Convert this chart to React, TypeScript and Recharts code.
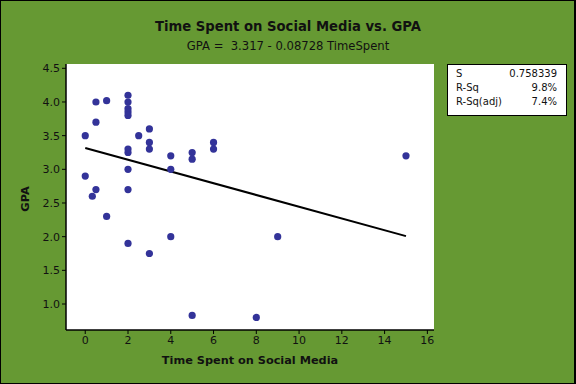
import React from 'react';
import { ScatterChart, Scatter, XAxis, YAxis, CartesianGrid } from 'recharts';

// Observed data: time spent on social media (hours) vs GPA
const timeSpent = [0, 0, 0.33, 0.5, 0.5, 0.5, 1, 1, 2, 2, 2, 2, 2, 2, 2, 2, 2, 2, 2.5, 3, 3, 3, 3, 4, 4, 4, 5, 5, 5, 6, 6, 8, 9, 15];
const gpa = [3.5, 2.9, 2.6, 4.0, 3.7, 2.7, 4.02, 2.3, 4.1, 4.0, 3.9, 3.85, 3.8, 3.3, 3.25, 3.0, 2.7, 1.9, 3.5, 3.6, 3.4, 3.3, 1.75, 3.2, 3.0, 2.0, 3.25, 3.15, 0.83, 3.4, 3.3, 0.8, 2.0, 3.2];

// Fitted regression: GPA = 3.317 - 0.08728 TimeSpent
const fitIntercept = 3.317;
const fitSlope = -0.08728;
const fitRangeX = [0, 15];

const xTicks = [0, 2, 4, 6, 8, 10, 12, 14, 16];
const yTicks = [1.0, 1.5, 2.0, 2.5, 3.0, 3.5, 4.0, 4.5];

const statLabels = ['S', 'R-Sq', 'R-Sq(adj)'];
const statValues = ['0.758339', '9.8%', '7.4%'];

const points = timeSpent.map((x, i) => ({ x, y: gpa[i] }));
const fitLine = fitRangeX.map((x) => ({ x, y: fitIntercept + fitSlope * x }));

const GREEN = '#669933';
const DOT = '#333399';
const FONT = '"DejaVu Sans", sans-serif';

export default function App() {
  return (
    <div
      style={{
        position: 'absolute',
        left: 0,
        top: 0,
        width: 576,
        height: 384,
        background: GREEN,
        boxSizing: 'border-box',
        border: '1px solid #000',
        borderRightWidth: 2,
        fontFamily: FONT,
        overflow: 'hidden',
      }}
    >
      <div style={{ position: 'absolute', left: -1, top: -1 }}>
        <ScatterChart width={576} height={384} margin={{ top: 64, right: 142, bottom: 0, left: 0 }}>
          <CartesianGrid fill="#ffffff" stroke="none" horizontal={false} vertical={false} />
          <XAxis
            xAxisId="b"
            type="number"
            dataKey="x"
            domain={[-0.9, 16.31]}
            ticks={xTicks}
            height={54}
            tickSize={4}
            axisLine={{ stroke: '#000', strokeWidth: 1.5 }}
            tickLine={{ stroke: '#000' }}
            tick={{ fill: '#111', fontSize: 11, fontFamily: FONT }}
            allowDataOverflow
          />
          <XAxis
            xAxisId="t"
            orientation="top"
            type="number"
            dataKey="x"
            domain={[-0.9, 16.31]}
            height={0}
            tick={false}
            tickLine={false}
            axisLine={{ stroke: '#000', strokeWidth: 1.5 }}
            allowDataOverflow
          />
          <YAxis
            yAxisId="l"
            type="number"
            dataKey="y"
            domain={[0.614, 4.564]}
            ticks={yTicks}
            width={66}
            tickSize={4}
            axisLine={{ stroke: '#000', strokeWidth: 1.5 }}
            tickLine={{ stroke: '#000' }}
            tick={{ fill: '#111', fontSize: 11, fontFamily: FONT }}
            tickFormatter={(v: number) => v.toFixed(1)}
            allowDataOverflow
          />
          <YAxis
            yAxisId="r"
            orientation="right"
            type="number"
            dataKey="y"
            domain={[0.614, 4.564]}
            width={0}
            tick={false}
            tickLine={false}
            axisLine={{ stroke: '#000', strokeWidth: 1.5 }}
            allowDataOverflow
          />
          <Scatter
            xAxisId="b"
            yAxisId="l"
            data={fitLine}
            line={{ stroke: '#000', strokeWidth: 2 }}
            shape={() => null}
            isAnimationActive={false}
          />
          <Scatter
            xAxisId="b"
            yAxisId="l"
            data={points}
            fill={DOT}
            shape={(p: any) => <circle cx={p.cx} cy={p.cy} r={3.6} fill={DOT} />}
            isAnimationActive={false}
          />
        </ScatterChart>
      </div>
      <div
        style={{
          position: 'absolute',
          left: 0,
          width: 574,
          top: 17,
          textAlign: 'center',
          fontWeight: 'bold',
          fontSize: 13.2,
          color: '#111',
          whiteSpace: 'pre',
          lineHeight: '18px',
        }}
      >
        Time Spent on Social Media vs. GPA
      </div>
      <div
        style={{
          position: 'absolute',
          left: 0,
          width: 574,
          top: 37,
          textAlign: 'center',
          fontSize: 11.6,
          color: '#111',
          whiteSpace: 'pre',
          lineHeight: '16px',
        }}
      >
        {'GPA =  3.317 - 0.08728 TimeSpent'}
      </div>
      <div
        style={{
          position: 'absolute',
          left: 65,
          width: 368,
          top: 352,
          textAlign: 'center',
          fontWeight: 'bold',
          fontSize: 11.3,
          color: '#111',
          lineHeight: '16px',
          whiteSpace: 'pre',
        }}
      >
        Time Spent on Social Media
      </div>
      <div
        style={{
          position: 'absolute',
          left: 25,
          top: 198,
          transform: 'translate(-50%, -50%) rotate(-90deg)',
          fontWeight: 'bold',
          fontSize: 11.3,
          color: '#111',
          lineHeight: '16px',
          whiteSpace: 'pre',
        }}
      >
        GPA
      </div>
      <div
        style={{
          position: 'absolute',
          left: 446,
          top: 63,
          width: 120,
          height: 52,
          background: '#fff',
          border: '1px solid #000',
          boxSizing: 'border-box',
          fontSize: 10,
          color: '#111',
          padding: '2px 9px 0 8px',
        }}
      >
        {statLabels.map((l, i) => (
          <div key={l} style={{ display: 'flex', justifyContent: 'space-between', lineHeight: '14px' }}>
            <span>{l}</span>
            <span>{statValues[i]}</span>
          </div>
        ))}
      </div>
    </div>
  );
}
